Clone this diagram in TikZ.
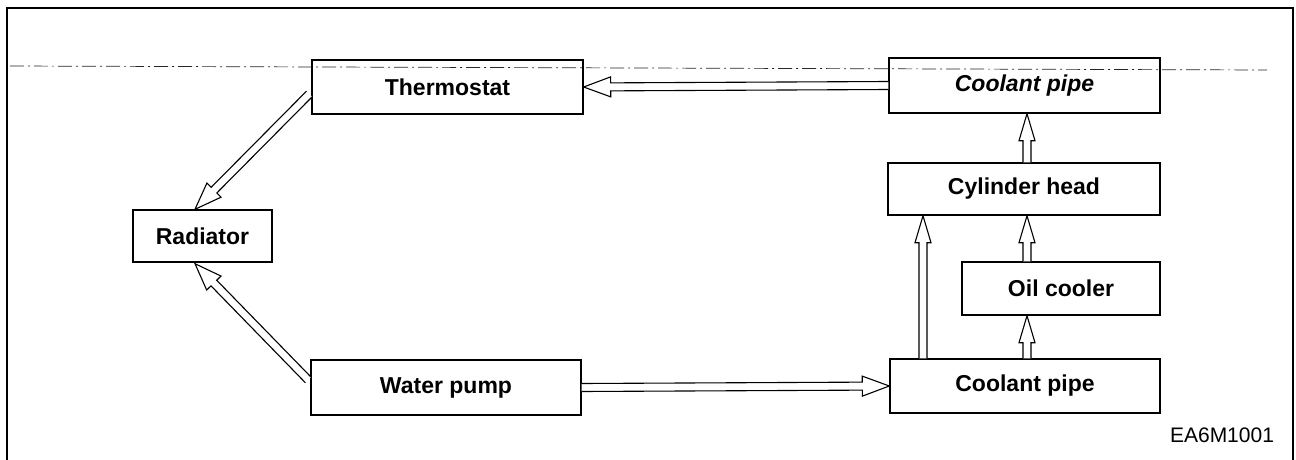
\documentclass[tikz,border=0pt]{standalone}
\usepackage{fontspec}
\setmainfont{Liberation Sans}
\usetikzlibrary{calc}
\tikzset{
  box/.style={draw, line width=1.4pt, inner sep=0pt, align=center,
    font=\fontsize{23}{26}\selectfont\bfseries},
  flowline/.style={draw, line width=1.1pt, line join=miter, fill=white},
  frameline/.style={line width=1.1pt},
  centerline/.style={line width=0.7pt, dash pattern=on 14pt off 4pt on 2pt off 4pt, black!85}
}
% #1 head half-width, #2 start, #3 tip
\newcommand\flowarr[3][10]{%
  \path ($(#3)!27pt!(#2)$) coordinate (fa-c);
  \draw[flowline] ($(#2)!4pt!90:(#3)$) -- ($(fa-c)!4pt!90:(#3)$) -- ($(fa-c)!#1pt!90:(#3)$)
    -- (#3) -- ($(fa-c)!#1pt!-90:(#3)$) -- ($(fa-c)!4pt!-90:(#3)$) -- ($(#2)!4pt!-90:(#3)$);
}
\begin{document}
\begin{tikzpicture}[x=1pt,y=-1pt]
\useasboundingbox (0,0) rectangle (1296,460);
% frame
\draw[frameline] (7,470) -- (7,8) -- (1293,8) -- (1293,470);
% nodes
\node[box, minimum width=271pt, minimum height=54pt] (th) at (447.5,87) {Thermostat};
\node[box, minimum width=271pt, minimum height=55pt, font=\fontsize{23}{26}\selectfont\bfseries\itshape] (cpt) at (1024.5,85.5) {Coolant pipe};
\node[box, minimum width=272pt, minimum height=52pt] (cyl) at (1024,189) {Cylinder head};
\node[box, minimum width=198pt, minimum height=53pt] (oil) at (1061,288.5) {Oil cooler};
\node[box, minimum width=270pt, minimum height=54pt] (cpb) at (1025,386) {Coolant pipe};
\node[box, minimum width=270pt, minimum height=55pt] (wp) at (446,387.5) {Water pump};
\node[box, minimum width=139pt, minimum height=52pt] (rad) at (202.5,236) {Radiator};
\node[font=\fontsize{21}{24}\selectfont, anchor=center] (code) at (1222,435) {EA6M1001};
% center line
\draw[centerline] (10,66) -- (1267,70);
% helper coordinates
\coordinate (xa) at (923,0);
\coordinate (xb) at (1027,0);
\coordinate (t1) at ($(th.west)+(-2,7)$);
\coordinate (r1) at ($(rad.north)+(-7.5,0)$);
\coordinate (w1) at ($(wp.west)+(-2,-7.5)$);
\coordinate (r2) at ($(rad.south)+(-7.5,1)$);
\coordinate (v1s) at (cpb.north -| xa);
\coordinate (v1t) at (cyl.south -| xa);
\coordinate (v2s) at (cpb.north -| xb);
\coordinate (v2t) at (oil.south -| xb);
\coordinate (v3s) at (oil.north -| xb);
\coordinate (v3t) at (cyl.south -| xb);
\coordinate (v4s) at (cyl.north -| xb);
\coordinate (v4t) at (cpt.south -| xb);
% connectors
\flowarr{cpt.west}{th.east}
\flowarr{t1}{r1}
\flowarr{w1}{r2}
\flowarr{wp.east}{cpb.west}
\flowarr[8]{v1s}{v1t}
\flowarr[8]{v2s}{v2t}
\flowarr[8]{v3s}{v3t}
\flowarr[8]{v4s}{v4t}
\end{tikzpicture}
\end{document}
